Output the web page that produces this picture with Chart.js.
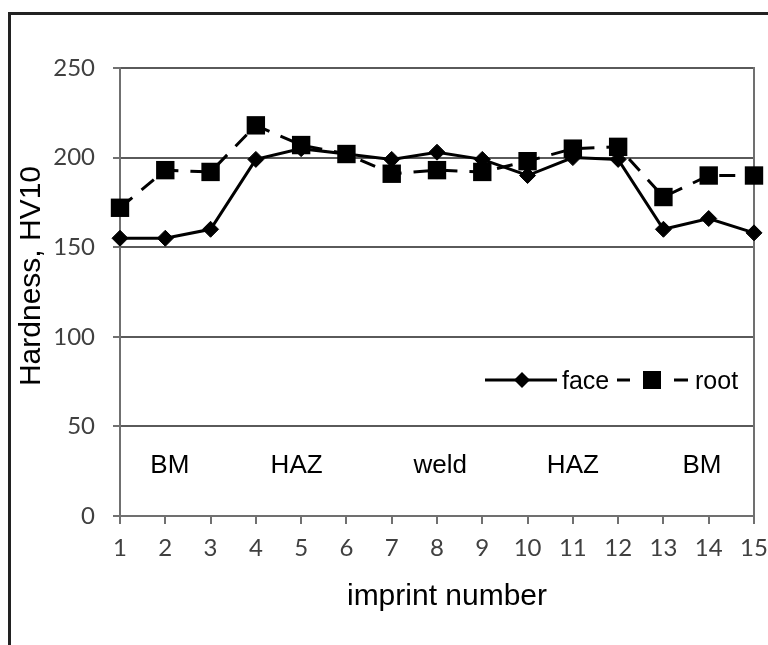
<!DOCTYPE html>
<html>
<head>
<meta charset="utf-8">
<script src="https://cdn.jsdelivr.net/npm/chart.js@4/dist/chart.umd.min.js"></script>
<style>
  html, body { margin: 0; padding: 0; background: #fff; }
  #wrap { position: relative; width: 768px; height: 645px; overflow: hidden; }
  #frame {
    position: absolute; left: 8px; top: 12px; width: 800px; height: 700px;
    border-top: 3px solid #222; border-left: 3px solid #222;
  }
  canvas { position: absolute; left: 0; top: 0; }
</style>
</head>
<body>
<div id="wrap">
  <div id="frame"></div>
  <canvas id="hvChart" width="768" height="645"></canvas>
</div>
<script>
// imprint positions across the joint
const imprint = [1, 2, 3, 4, 5, 6, 7, 8, 9, 10, 11, 12, 13, 14, 15];

// hardness HV10
const face = [155, 155, 160, 199, 205, 202, 199, 203, 199, 190, 200, 199, 160, 166, 158];
const root = [172, 193, 192, 218, 207, 202, 191, 193, 192, 198, 205, 206, 178, 190, 190];

const yTicks = [0, 50, 100, 150, 200, 250];

// zone names written inside the plot
const zoneLabels = ["BM", "HAZ", "weld", "HAZ", "BM"];
const zoneCenters = [2.1, 4.9, 8.07, 11.0, 13.85];
const zoneLevel = 24;

const textFont = '"Liberation Sans", Arial, sans-serif';
const tickFont = { family: "Lato, sans-serif", size: 24 };

const extras = {
    id: "extras",
    afterDraw(chart) {
        const ctx = chart.ctx;
        const xs = chart.scales.x;
        const ys = chart.scales.y;

        ctx.save();
        ctx.fillStyle = "#000";
        ctx.textBaseline = "alphabetic";

        // zones
        ctx.font = "26px " + textFont;
        ctx.textAlign = "center";
        zoneLabels.forEach((t, i) => {
            ctx.fillText(t, xs.getPixelForValue(zoneCenters[i]), ys.getPixelForValue(zoneLevel));
        });

        // axis titles
        ctx.font = "30px " + textFont;
        ctx.fillText("imprint number", 447, 605);

        ctx.save();
        ctx.translate(40, 276);
        ctx.rotate(-Math.PI / 2);
        ctx.fillText("Hardness, HV10", 0, 0);
        ctx.restore();

        // legend
        const ly = 380;
        ctx.strokeStyle = "#000";
        ctx.lineWidth = 3;
        ctx.beginPath();
        ctx.moveTo(485, ly);
        ctx.lineTo(557, ly);
        ctx.stroke();
        ctx.beginPath();
        ctx.moveTo(522 - 8, ly);
        ctx.lineTo(522, ly - 8);
        ctx.lineTo(522 + 8, ly);
        ctx.lineTo(522, ly + 8);
        ctx.closePath();
        ctx.fill();

        ctx.beginPath();
        ctx.moveTo(617, ly);
        ctx.lineTo(630, ly);
        ctx.moveTo(674, ly);
        ctx.lineTo(688, ly);
        ctx.stroke();
        ctx.fillRect(652 - 9, ly - 9, 18, 18);

        ctx.font = "25px " + textFont;
        ctx.textAlign = "left";
        ctx.fillText("face", 562, ly + 9);
        ctx.fillText("root", 695, ly + 9);

        ctx.restore();
    }
};

new Chart(
    document.getElementById("hvChart"),
    {
        type: "line",

        data: {
            datasets: [
                {
                    label: "root",
                    data: imprint.map((x, i) => ({ x: x, y: root[i] })),
                    borderColor: "#000",
                    borderWidth: 3,
                    borderDash: [16, 12],
                    pointStyle: "rect",
                    pointRadius: 13,
                    pointBackgroundColor: "#000",
                    pointBorderColor: "#000",
                    pointBorderWidth: 0,
                    tension: 0,
                    clip: false,
                    order: 0
                },
                {
                    label: "face",
                    data: imprint.map((x, i) => ({ x: x, y: face[i] })),
                    borderColor: "#000",
                    borderWidth: 3,
                    pointStyle: "rectRot",
                    pointRadius: 8,
                    pointBackgroundColor: "#000",
                    pointBorderColor: "#000",
                    pointBorderWidth: 1,
                    tension: 0,
                    clip: false,
                    order: 1
                }
            ]
        },

        options: {
            responsive: false,
            animation: false,
            layout: {
                padding: { top: 68, right: 14, left: 0, bottom: 0 }
            },
            plugins: {
                legend: { display: false },
                tooltip: { enabled: false }
            },
            scales: {
                x: {
                    type: "linear",
                    min: 1,
                    max: 15,
                    afterBuildTicks: (scale) => {
                        scale.ticks = imprint.map(v => ({ value: v }));
                    },
                    afterFit: (scale) => {
                        scale.height = 129;
                        scale.paddingLeft = 0;
                        scale.paddingRight = 0;
                    },
                    grid: {
                        drawOnChartArea: false,
                        lineWidth: 2,
                        tickColor: "#707070",
                        tickLength: 8
                    },
                    border: { color: "#707070", width: 2 },
                    ticks: {
                        color: "#404040",
                        font: tickFont,
                        padding: 10,
                        maxRotation: 0,
                        autoSkip: false
                    }
                },
                y: {
                    min: 0,
                    max: 250,
                    afterBuildTicks: (scale) => {
                        scale.ticks = yTicks.map(v => ({ value: v }));
                    },
                    afterFit: (scale) => {
                        scale.width = 120;
                        scale.paddingTop = 0;
                        scale.paddingBottom = 0;
                    },
                    grid: {
                        color: "#5a5a5a",
                        lineWidth: 2,
                        tickColor: "#707070",
                        tickLength: 7
                    },
                    border: { color: "#707070", width: 2 },
                    ticks: {
                        color: "#404040",
                        font: tickFont,
                        padding: 18
                    }
                },
                // right edge of the plot frame
                yRight: {
                    position: "right",
                    min: 0,
                    max: 250,
                    afterFit: (scale) => {
                        scale.width = 0;
                        scale.paddingTop = 0;
                        scale.paddingBottom = 0;
                    },
                    grid: { drawOnChartArea: false, drawTicks: false },
                    border: { color: "#707070", width: 2 },
                    ticks: { display: false }
                }
            }
        },

        plugins: [extras]
    }
);
</script>
</body>
</html>
